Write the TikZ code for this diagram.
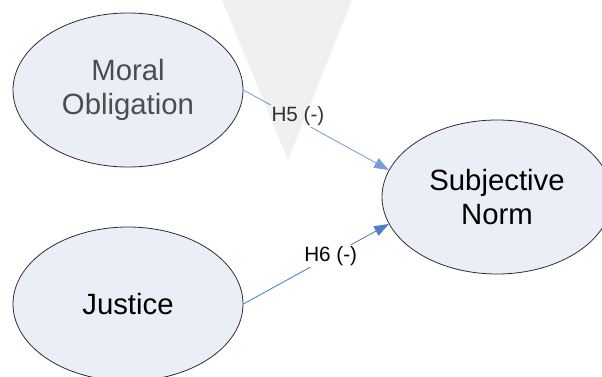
\documentclass[tikz,border=0pt]{standalone}
\usepackage{fontspec}
\setmainfont{Liberation Sans}
\usepackage{tikz}
\usetikzlibrary{shapes.geometric,arrows.meta,positioning}
\definecolor{ellfill}{RGB}{233,238,247}
\definecolor{ellline}{RGB}{45,45,45}
\definecolor{greytext}{RGB}{77,77,77}
\definecolor{linklight}{RGB}{122,158,210}
\definecolor{linkdark}{RGB}{78,126,200}

\begin{document}
\begin{tikzpicture}[x=0.75pt, y=0.75pt,
    construct/.style={ellipse, draw=ellline, line width=0.6pt, fill=ellfill,
        minimum width=172.5pt, minimum height=115.5pt, inner sep=0pt,
        align=center, font=\fontsize{22}{25}\selectfont},
    effect/.style={-{Triangle[length=11pt,width=8pt]}, line width=0.6pt},
    hyp/.style={fill=white, inner sep=1pt, font=\fontsize{15.5}{18}\selectfont}
]

\clip (0,0) rectangle (602,376);

\node[construct, text=greytext] (moral) at (128,286) {Moral\\Obligation};
\node[construct] (justice) at (128,72) {Justice};
\node[construct] (subnorm) at (497,179) {Subjective\\Norm};

\draw[effect, draw=linklight, fill=linklight] (moral.east) -- node[hyp, text=black!80, pos=0.375, yshift=3pt] {H5 (-)} (subnorm.166);
\draw[effect, draw=linkdark, fill=linkdark] (justice.east) -- node[hyp, pos=0.6] {H6 (-)} (subnorm.194);

\begin{scope}[blend mode=multiply]
\fill[black!6] (222,376) -- (352,376) -- (288,216) -- cycle;
\end{scope}

\end{tikzpicture}
\end{document}
